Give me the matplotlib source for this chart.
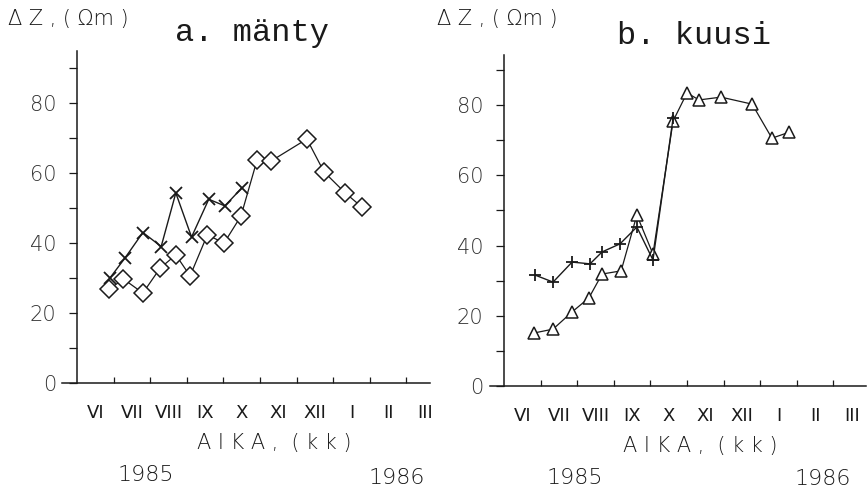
import matplotlib
matplotlib.use("Agg")
import matplotlib.pyplot as plt
from matplotlib.ticker import FixedLocator, FixedFormatter, NullFormatter

W, H = 867, 488
DPI = 100

months = ["VI", "VII", "VIII", "IX", "X", "XI", "XII", "I", "II", "III"]

# time axis: months elapsed since 1 June 1985
manty_cross_t = [0.90, 1.31, 1.80, 2.30, 2.70, 3.13, 3.60, 4.04, 4.50]
manty_cross_v = [30.0, 35.7, 43.0, 39.0, 54.3, 41.7, 52.5, 50.6, 55.7]
manty_diam_t = [0.88, 1.27, 1.80, 2.27, 2.70, 3.09, 3.56, 4.02, 4.48,
                4.92, 5.30, 6.28, 6.75, 7.33, 7.78]
manty_diam_v = [26.8, 29.7, 25.7, 32.8, 36.6, 30.6, 42.3, 40.0, 47.7,
                63.7, 63.4, 69.7, 60.3, 54.3, 50.3]

kuusi_plus_t = [0.85, 1.34, 1.86, 2.35, 2.68, 3.17, 3.63, 4.07, 4.62]
kuusi_plus_v = [31.6, 29.6, 35.3, 34.8, 38.2, 40.5, 45.3, 35.9, 76.3]
kuusi_tri_t = [0.82, 1.34, 1.86, 2.32, 2.68, 3.20, 3.63, 4.07, 4.62,
               5.00, 5.33, 5.93, 6.78, 7.32, 7.79]
kuusi_tri_v = [15.1, 16.2, 21.1, 25.1, 31.9, 32.8, 48.7, 37.6, 75.5,
               83.5, 81.5, 82.3, 80.3, 70.6, 72.3]

PX_MONTH = 36.6
INK = "#1a1a1a"
SANS = "DejaVu Sans"
MONO = "Liberation Mono"

fig = plt.figure(figsize=(W / DPI, H / DPI), dpi=DPI)
fig.patch.set_facecolor("white")


def make_axes(left_px, yaxis_px, right_px, zero_px, px_unit, top_val):
    x0 = (left_px - yaxis_px) / PX_MONTH
    x1 = (right_px - yaxis_px) / PX_MONTH
    ax = fig.add_axes([left_px / W, (H - zero_px) / H,
                       (right_px - left_px) / W, top_val * px_unit / H])
    ax.set_xlim(x0, x1)
    ax.set_ylim(0, top_val)
    ax.patch.set_alpha(0)
    for s in ("top", "right"):
        ax.spines[s].set_visible(False)
    ax.spines["left"].set_position(("data", 0))
    for s in ("left", "bottom"):
        ax.spines[s].set_linewidth(1.1)
        ax.spines[s].set_color(INK)

    ax.yaxis.set_major_locator(FixedLocator([0, 20, 40, 60, 80]))
    ax.yaxis.set_minor_locator(FixedLocator([10, 30, 50, 70, 90]))
    ax.yaxis.set_minor_formatter(NullFormatter())
    ax.tick_params(axis="y", which="both", direction="out", length=6,
                   width=0.9, color=INK, labelsize=15, pad=9,
                   labelcolor="#333333")

    ax.xaxis.set_major_locator(FixedLocator(range(1, 10)))
    ax.xaxis.set_major_formatter(NullFormatter())
    ax.xaxis.set_minor_locator(FixedLocator([i + 0.5 for i in range(10)]))
    ax.xaxis.set_minor_formatter(FixedFormatter(months))
    ax.tick_params(axis="x", which="major", direction="in", length=4,
                   width=0.9, color=INK)
    ax.tick_params(axis="x", which="minor", length=0, labelsize=13,
                   pad=15, labelcolor=INK)
    for lab in ax.get_yticklabels():
        lab.set_fontfamily(SANS)
        lab.set_fontweight("light")
    for lab in ax.get_xticklabels(minor=True):
        lab.set_fontfamily(SANS)
    return ax


# a. mänty
ax_a = make_axes(62, 77, 430, 383, 3.5, 95)
ax_a.plot(manty_cross_t, manty_cross_v, color=INK, lw=1.0, marker="x",
          ms=9, mew=1.3, mec=INK, zorder=3)
ax_a.plot(manty_diam_t, manty_diam_v, color=INK, lw=0.9, marker="D",
          ms=9.5, mew=1.1, mfc="white", mec=INK, zorder=2)

# b. kuusi
ax_b = make_axes(490, 504, 866, 386, 3.51, 94.3)
ax_b.plot(kuusi_plus_t, kuusi_plus_v, color=INK, lw=1.0, marker="+",
          ms=9, mew=1.3, mec=INK, zorder=3)
ax_b.plot(kuusi_tri_t, kuusi_tri_v, color=INK, lw=0.9, marker="^",
          ms=9, mew=1.1, mfc="white", mec=INK, zorder=2)


def ftext(x_px, y_px, s, **kw):
    fig.text(x_px / W, 1 - y_px / H, s, color=INK, **kw)


ylab = "\u0394 Z , ( \u03a9m )"
ftext(8, 19, ylab, fontsize=15, family=SANS, fontweight="light",
      ha="left", va="center")
ftext(437, 19, ylab, fontsize=15, family=SANS, fontweight="light",
      ha="left", va="center")
ftext(252, 33, "a. mänty", fontsize=23, family=MONO, ha="center",
      va="center")
ftext(694, 36, "b. kuusi", fontsize=23, family=MONO, ha="center",
      va="center")

xlab = "A I K A ,  ( k k )"
ftext(274, 443, xlab, fontsize=15, family=SANS, fontweight="light",
      ha="center", va="center")
ftext(700, 446, xlab, fontsize=15, family=SANS, fontweight="light",
      ha="center", va="center")

for x_px, y_px, yr in ((146, 475, "1985"), (397, 478, "1986"),
                       (575, 478, "1985"), (823, 479, "1986")):
    ftext(x_px, y_px, yr, fontsize=16, family=SANS, fontweight="light",
          ha="center", va="center")

fig.savefig("out.png", dpi=DPI, facecolor="white")
